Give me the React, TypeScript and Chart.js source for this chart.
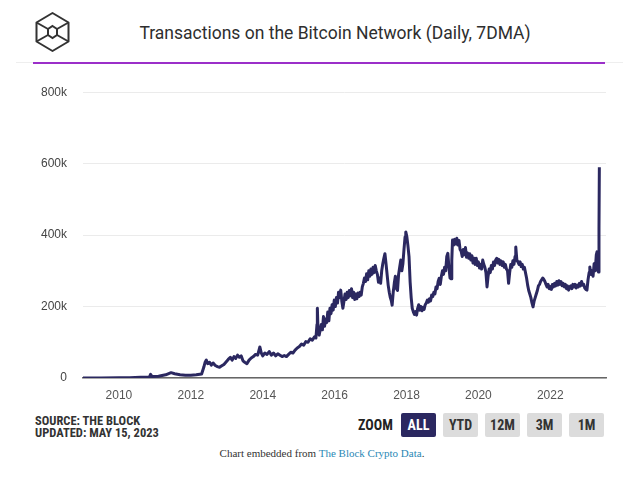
import React, { useEffect, useRef } from "react";
import { Chart, registerables } from "chart.js";

Chart.register(...registerables);

const TITLE = "Transactions on the Bitcoin Network (Daily, 7DMA)";
const X_TICKS = [2010, 2012, 2014, 2016, 2018, 2020, 2022];
const Y_TICKS = [0, 200, 400, 600, 800];

// decimal year
const YEARS = [
  2009.0, 2009.5, 2010.0, 2010.3, 2010.6, 2010.85, 2010.88, 2010.92, 2011.1, 2011.3,
  2011.4, 2011.45, 2011.55, 2011.7, 2011.85, 2012.0, 2012.15, 2012.3,
  2012.36, 2012.4, 2012.43, 2012.47, 2012.52, 2012.57, 2012.62, 2012.68, 2012.74, 2012.8,
  2012.86, 2012.92, 2012.98, 2013.04, 2013.1, 2013.15, 2013.2, 2013.25, 2013.3, 2013.35,
  2013.4, 2013.45, 2013.5, 2013.56, 2013.62, 2013.68, 2013.74, 2013.8, 2013.86, 2013.92,
  2013.96, 2014.0, 2014.06, 2014.12, 2014.18, 2014.24, 2014.3, 2014.36, 2014.42, 2014.48,
  2014.54, 2014.6, 2014.66, 2014.72, 2014.78, 2014.84, 2014.9, 2014.96, 2015.02, 2015.08,
  2015.14, 2015.2, 2015.26, 2015.32, 2015.38, 2015.44, 2015.48, 2015.51, 2015.52, 2015.54,
  2015.57, 2015.6,
  2015.63, 2015.66, 2015.69, 2015.72, 2015.75, 2015.78, 2015.81, 2015.84, 2015.87, 2015.9,
  2015.93, 2015.96, 2015.99, 2016.02, 2016.05, 2016.08, 2016.11, 2016.14, 2016.17, 2016.2,
  2016.23, 2016.26, 2016.29, 2016.32, 2016.35, 2016.38, 2016.41, 2016.44, 2016.47, 2016.5,
  2016.53, 2016.56, 2016.59, 2016.62, 2016.65, 2016.68, 2016.71, 2016.74, 2016.77, 2016.8,
  2016.83, 2016.86, 2016.89, 2016.92, 2016.95, 2016.98, 2017.01, 2017.04, 2017.07, 2017.1,
  2017.13, 2017.16, 2017.19, 2017.22, 2017.25, 2017.28, 2017.31, 2017.34, 2017.37, 2017.4,
  2017.43, 2017.46, 2017.49, 2017.52, 2017.55, 2017.58, 2017.6, 2017.63, 2017.66, 2017.69,
  2017.72, 2017.75, 2017.78, 2017.81, 2017.84, 2017.87, 2017.9, 2017.93, 2017.96, 2017.98,
  2018.01, 2018.04, 2018.07, 2018.1, 2018.13, 2018.16, 2018.19, 2018.22, 2018.25, 2018.28,
  2018.31, 2018.34, 2018.37, 2018.4, 2018.43, 2018.46, 2018.49, 2018.52, 2018.55, 2018.58,
  2018.61, 2018.64, 2018.67, 2018.7, 2018.73, 2018.76, 2018.79, 2018.82, 2018.85, 2018.88,
  2018.91, 2018.94, 2018.97, 2019.0, 2019.03, 2019.06, 2019.09, 2019.12, 2019.15, 2019.18,
  2019.21, 2019.24, 2019.26, 2019.28, 2019.31, 2019.34, 2019.37, 2019.4, 2019.43, 2019.46,
  2019.49, 2019.52, 2019.55, 2019.58, 2019.61, 2019.64, 2019.67, 2019.7, 2019.73, 2019.76,
  2019.79, 2019.82, 2019.85, 2019.88, 2019.91, 2019.94, 2019.97, 2020.0, 2020.03, 2020.06,
  2020.09, 2020.12, 2020.15, 2020.18, 2020.21, 2020.24, 2020.27, 2020.3, 2020.33, 2020.36,
  2020.39, 2020.42, 2020.45, 2020.48, 2020.51, 2020.54, 2020.57, 2020.6, 2020.63, 2020.66,
  2020.69, 2020.72, 2020.75, 2020.78, 2020.81, 2020.84, 2020.87, 2020.9, 2020.93, 2020.96,
  2020.99, 2021.02, 2021.04, 2021.07, 2021.1, 2021.13, 2021.16, 2021.19, 2021.22, 2021.25,
  2021.28, 2021.31, 2021.34, 2021.37, 2021.4, 2021.43, 2021.46, 2021.49, 2021.52, 2021.55,
  2021.58, 2021.61, 2021.64, 2021.67, 2021.7, 2021.73, 2021.76, 2021.79, 2021.82, 2021.85,
  2021.88, 2021.91, 2021.94, 2021.97, 2022.0, 2022.03, 2022.06, 2022.09, 2022.12, 2022.15,
  2022.18, 2022.21, 2022.24, 2022.27, 2022.3, 2022.33, 2022.36, 2022.39, 2022.42, 2022.45,
  2022.48, 2022.51, 2022.54, 2022.57, 2022.6, 2022.63, 2022.66, 2022.69, 2022.72, 2022.75,
  2022.78, 2022.81, 2022.84, 2022.87, 2022.9, 2022.93, 2022.96, 2022.99, 2023.02, 2023.05,
  2023.08, 2023.1, 2023.13, 2023.16, 2023.19, 2023.22, 2023.25, 2023.28, 2023.3, 2023.32,
  2023.34, 2023.355, 2023.365,
];

// transactions, thousands
const TX_K = [
  0, 0.3, 0.5, 1, 2, 3, 10, 4, 5, 9,
  13, 15, 12, 9, 8, 8, 9, 11,
  30, 45, 50, 40, 44, 36, 42, 35, 32, 30,
  34, 38, 45, 52, 58, 50, 60, 55, 64, 58,
  62, 48, 44, 40, 50, 56, 60, 66, 64, 87,
  70, 62, 70, 66, 74, 64, 70, 62, 68, 64,
  60, 63, 60, 66, 72, 70, 78, 84, 88, 95,
  92, 102, 100, 110, 106, 115, 112, 150, 195, 130,
  120, 135,
  150, 135, 172, 145, 165, 155, 185, 160, 195, 180,
  205, 190, 218, 200, 225, 210, 240, 225, 246, 215,
  195, 215, 235, 220, 240, 225, 245, 230, 250, 225,
  240, 220, 235, 222, 238, 228, 240, 232, 255, 265,
  280, 270, 292, 275, 300, 285, 305, 290, 310, 295,
  315, 300, 290, 268, 280, 265, 300, 320, 335, 348,
  320, 290, 260, 240, 225, 215, 204, 240, 265, 285,
  250, 245, 290, 310, 330, 300, 320, 360, 395, 409,
  395, 370, 340, 270, 225, 195, 185, 178, 186, 176,
  195, 205, 190, 200, 188, 198, 192, 205, 210, 218,
  212, 222, 216, 232, 228, 240, 235, 255, 250, 270,
  279, 262, 285, 300, 290, 310, 300, 340, 349, 310,
  280, 278, 330, 386, 372, 388, 375, 391, 372, 385,
  360, 355, 340, 360, 345, 365, 338, 350, 335, 348,
  330, 342, 322, 335, 318, 335, 315, 325, 308, 318,
  305, 330, 318, 310, 295, 255, 285, 305, 295, 315,
  305, 325, 315, 330, 335, 322, 332, 318, 328, 315,
  325, 310, 318, 305, 300, 265, 295, 318, 310, 328,
  318, 340, 367, 330, 325, 318, 325, 312, 318, 305,
  310, 295, 280, 260, 245, 235, 225, 210, 199, 215,
  225, 235, 245, 258, 262, 270, 275, 280, 276, 270,
  262, 255, 262, 250, 256, 248, 262, 255, 265, 258,
  270, 260, 272, 262, 270, 258, 265, 255, 262, 250,
  258, 246, 255, 258, 250, 262, 255, 262, 252, 260,
  255, 265, 258, 270, 260, 262, 252, 248, 246, 275,
  295, 311, 290, 300, 285, 320, 300, 345, 353, 310,
  297, 420, 590,
];

const ZOOM_BUTTONS = ["ALL", "YTD", "12M", "3M", "1M"];

const LINE_COLOR = "#2b2860";
const NARROW = "'Liberation Sans Narrow', 'Arial Narrow', 'Roboto Condensed', 'Liberation Sans', sans-serif";

function Logo() {
  const cx = 52.5, cy = 32;
  const outer = [
    [cx, cy - 19], [cx + 16, cy - 9.5], [cx + 16, cy + 9.5],
    [cx, cy + 19], [cx - 16, cy + 9.5], [cx - 16, cy - 9.5],
  ];
  const inner = [
    [cx, cy - 6], [cx + 4.5, cy - 3], [cx + 4.5, cy + 3],
    [cx, cy + 6], [cx - 4.5, cy + 3], [cx - 4.5, cy - 3],
  ];
  const pts = (a: number[][]) => a.map((p) => p.join(",")).join(" ");
  return (
    <svg width={640} height={70} style={{ position: "absolute", left: 0, top: 0 }}>
      <polygon points={pts(outer)} fill="none" stroke="#333" strokeWidth={2} strokeLinejoin="round" />
      <polygon points={pts(inner)} fill="none" stroke="#333" strokeWidth={2} />
      {[1, 2, 4, 5].map((k) => (
        <line key={k} x1={outer[k][0]} y1={outer[k][1]} x2={inner[k][0]} y2={inner[k][1]} stroke="#333" strokeWidth={2} />
      ))}
    </svg>
  );
}

export default function App() {
  const canvasRef = useRef<HTMLCanvasElement | null>(null);

  useEffect(() => {
    if (!canvasRef.current) return;
    const data = YEARS.map((x, i) => ({ x, y: TX_K[i] }));
    const chart = new Chart(canvasRef.current, {
      type: "line",
      data: {
        datasets: [
          {
            data,
            borderColor: LINE_COLOR,
            borderWidth: 3,
            pointRadius: 0,
            tension: 0,
            fill: false,
            borderJoinStyle: "round",
          },
        ],
      },
      options: {
        animation: false,
        responsive: false,
        maintainAspectRatio: false,
        layout: { padding: { top: 12, right: 14, left: 0, bottom: 0 } },
        plugins: { legend: { display: false }, tooltip: { enabled: false } },
        scales: {
          x: {
            type: "linear",
            min: 2009.0,
            max: 2023.55,
            grid: { display: false, drawTicks: false },
            border: { display: true, color: "#666", width: 1.5 },
            afterBuildTicks: (scale: any) => {
              scale.ticks = X_TICKS.map((v) => ({ value: v }));
            },
            afterFit: (scale: any) => {
              scale.height = 27;
            },
            ticks: {
              padding: 10,
              color: "#555",
              font: { family: "'Liberation Sans', Arial, sans-serif", size: 12 },
              callback: (v: any) => String(v),
              maxRotation: 0,
              autoSkip: false,
            },
          },
          y: {
            min: 0,
            max: 800,
            grid: { color: "#ebebeb", drawTicks: false, lineWidth: 1 },
            border: { display: false },
            afterBuildTicks: (scale: any) => {
              scale.ticks = Y_TICKS.map((v) => ({ value: v }));
            },
            afterFit: (scale: any) => {
              scale.width = 63;
            },
            ticks: {
              padding: 16,
              color: "#444",
              font: { family: "'Liberation Sans', Arial, sans-serif", size: 12 },
              callback: (v: any) => (v === 0 ? "0" : `${v}k`),
            },
          },
        },
      },
    });
    return () => chart.destroy();
  }, []);

  const btnBase: React.CSSProperties = {
    position: "absolute",
    top: 413,
    width: 35,
    height: 24,
    lineHeight: "24px",
    textAlign: "center",
    fontFamily: NARROW,
    fontWeight: 700,
    fontSize: 14,
    borderRadius: 2,
  };
  const btnLefts = [401, 443, 485, 527, 569];

  return (
    <div
      style={{
        position: "absolute",
        left: 0,
        top: 0,
        width: 640,
        height: 483,
        background: "#fff",
        overflow: "hidden",
        fontFamily: "'Liberation Sans', Arial, sans-serif",
      }}
    >
      <Logo />
      <div
        style={{
          position: "absolute",
          left: 0,
          width: 670,
          top: 23,
          textAlign: "center",
          fontFamily: "Roboto, 'Liberation Sans', sans-serif",
          fontSize: 17.5,
          color: "#2e2e2e",
          whiteSpace: "nowrap",
        }}
      >
        {TITLE}
      </div>
      <div style={{ position: "absolute", left: 16, width: 607, top: 62, height: 1, background: "#eee" }} />
      <div style={{ position: "absolute", left: 33, width: 572, top: 62, height: 1.5, background: "#9b2fc9" }} />

      <div style={{ position: "absolute", left: 20, top: 69, width: 600, height: 336 }}>
        <canvas ref={canvasRef} width={600} height={336} style={{ width: 600, height: 336 }} />
      </div>

      <div
        style={{
          position: "absolute",
          left: 35,
          top: 415,
          fontFamily: NARROW,
          fontWeight: 700,
          fontSize: 12.5,
          lineHeight: "12px",
          color: "#333",
        }}
      >
        <div>SOURCE: THE BLOCK</div>
        <div>UPDATED: MAY 15, 2023</div>
      </div>

      <div
        style={{
          position: "absolute",
          left: 358,
          top: 413,
          height: 24,
          lineHeight: "24px",
          fontFamily: NARROW,
          fontWeight: 700,
          fontSize: 14,
          color: "#222",
        }}
      >
        ZOOM
      </div>
      {ZOOM_BUTTONS.map((b, i) => (
        <div
          key={b}
          style={{
            ...btnBase,
            left: btnLefts[i],
            background: i === 0 ? LINE_COLOR : "#dcdcdc",
            color: i === 0 ? "#fff" : "#333",
          }}
        >
          {b}
        </div>
      ))}

      <div
        style={{
          position: "absolute",
          left: 0,
          width: 644,
          top: 447,
          textAlign: "center",
          fontFamily: "'Liberation Serif', 'Times New Roman', serif",
          fontSize: 11,
          color: "#333",
        }}
      >
        Chart embedded from <span style={{ color: "#2a88b5" }}>The Block Crypto Data</span>.
      </div>
    </div>
  );
}
